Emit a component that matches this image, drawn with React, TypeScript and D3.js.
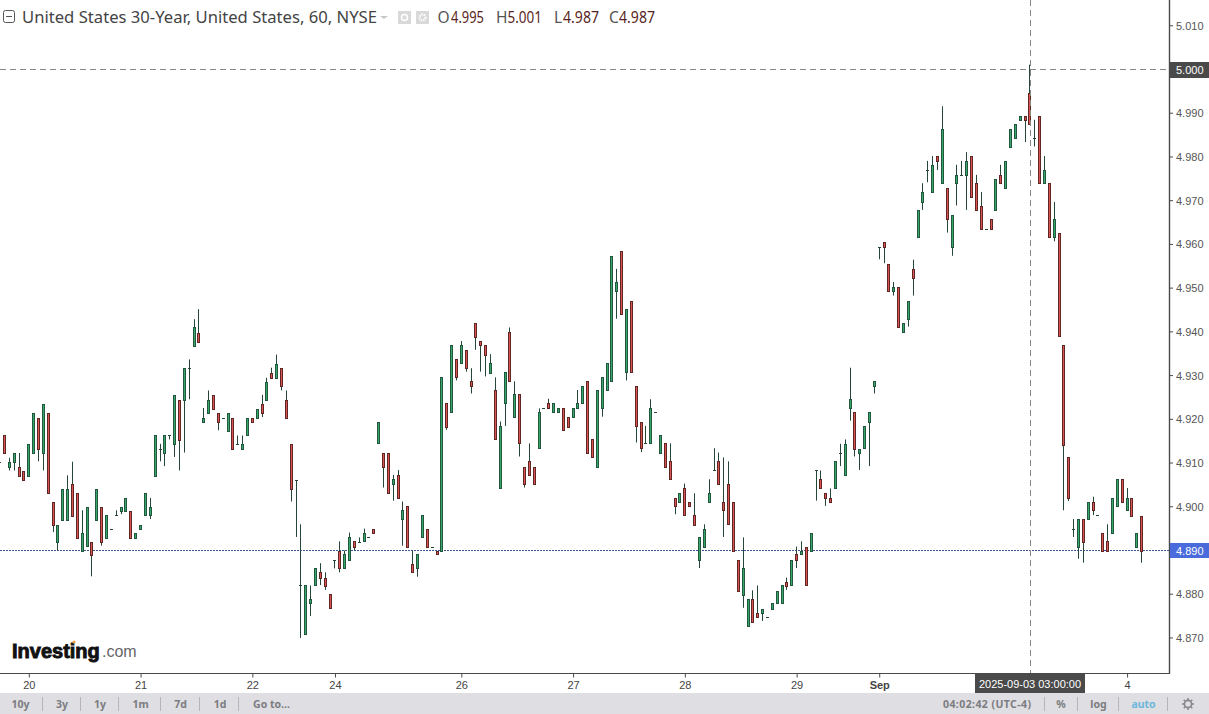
import React from "react";
import * as d3 from "d3";

const opens = [
4.9103,4.9163,4.9090,4.9103,4.9092,4.9082,4.9071,4.9123,4.9204,4.9123,
4.9215,4.9011,4.8919,4.8970,4.8970,4.9053,4.9032,4.8900,4.8910,4.8919,
4.8970,4.9000,4.8929,4.8950,4.8982,4.8990,4.8990,4.8990,4.8929,4.8950,
4.8982,4.8982,4.9071,4.9133,4.9123,4.9163,4.9144,4.9245,4.9245,4.9318,
4.9368,4.9398,4.9195,4.9215,4.9256,4.9215,4.9204,4.9174,4.9204,4.9144,
4.9133,4.9163,4.9204,4.9204,4.9236,4.9245,4.9307,4.9295,4.9318,4.9245,
4.9144,4.9062,4.8820,4.8708,4.8779,4.8820,4.8850,4.8838,4.8800,4.8879,
4.8900,4.8859,4.8879,4.8921,4.8920,4.8921,4.8930,4.8950,4.9145,4.9124,
4.9124,4.9053,4.9072,4.8971,4.9001,4.8870,4.8859,4.8930,4.8950,4.8909,
4.8900,4.8900,4.9237,4.9216,4.9337,4.9328,4.9358,4.9287,4.9420,4.9379,
4.9369,4.9307,4.9266,4.9042,4.9237,4.9399,4.9205,4.9257,4.9092,4.9104,
4.9092,4.9134,4.9225,4.9237,4.9216,4.9216,4.9225,4.9205,4.9205,4.9225,
4.9237,4.9287,4.9154,4.9092,4.9225,4.9266,4.9287,4.9493,4.9585,4.9308,
4.9470,4.9276,4.9195,4.9145,4.9145,4.9216,4.9124,4.9145,4.9104,4.9021,
4.9011,4.9042,4.9012,4.8982,4.8879,4.8908,4.9011,4.9083,4.9104,4.9012,
4.9053,4.9012,4.8879,4.8799,4.8728,4.8788,4.8758,4.8758,4.8749,4.8767,
4.8779,4.8779,4.8829,4.8820,4.8891,4.8891,4.8909,4.8900,4.9083,4.9063,
4.9031,4.9021,4.9042,4.9124,4.9072,4.9225,4.9216,4.9124,4.9134,4.9195,
4.9276,4.9594,4.9605,4.9555,4.9493,4.9502,4.9399,4.9429,4.9544,4.9617,
4.9696,4.9770,4.9720,4.9802,4.9740,4.9729,4.9593,4.9740,4.9759,4.9758,
4.9802,4.9740,4.9688,4.9635,4.9658,4.9679,4.9759,4.9729,4.9823,4.9844,
4.9885,4.9894,4.9947,4.9844,4.9894,4.9740,4.9740,4.9617,4.9626,4.9369,
4.9113,4.8950,4.8908,4.8971,4.8971,4.9012,4.8981,4.8941,4.8921,4.8941,
4.9001,4.9063,4.8992,4.9021,4.8908,4.8980];

const closes = [
4.9103,4.9123,4.9103,4.9123,4.9071,4.9062,4.9144,4.9215,4.9133,4.9236,
4.9031,4.8959,4.8959,4.9041,4.9041,4.8980,4.8929,4.8940,4.9000,4.8889,
4.9041,4.8919,4.8982,4.8950,4.8982,4.9000,4.9020,4.8929,4.8940,4.8959,
4.9032,4.9000,4.9163,4.9133,4.9163,4.9163,4.9256,4.9153,4.9318,4.9318,
4.9410,4.9377,4.9204,4.9245,4.9224,4.9195,4.9204,4.9215,4.9133,4.9144,
4.9144,4.9204,4.9195,4.9224,4.9215,4.9286,4.9295,4.9327,4.9276,4.9204,
4.9041,4.9062,4.8820,4.8820,4.8788,4.8859,4.8838,4.8819,4.8769,4.8879,
4.8859,4.8891,4.8930,4.8909,4.8920,4.8941,4.8930,4.8941,4.9195,4.9092,
4.9031,4.9063,4.9021,4.8992,4.8909,4.8850,4.8891,4.8982,4.8909,4.8909,
4.8891,4.9296,4.9183,4.9369,4.9296,4.9369,4.9317,4.9276,4.9389,4.9369,
4.9348,4.9328,4.9154,4.9184,4.9308,4.9287,4.9257,4.9145,4.9053,4.9072,
4.9053,4.9216,4.9225,4.9225,4.9237,4.9225,4.9175,4.9183,4.9225,4.9237,
4.9276,4.9124,4.9113,4.9266,4.9296,4.9328,4.9573,4.9514,4.9440,4.9452,
4.9308,4.9184,4.9134,4.9145,4.9225,4.9216,4.9163,4.9092,4.9063,4.9001,
4.9031,4.8982,4.9001,4.8959,4.8930,4.8950,4.9031,4.9083,4.9053,4.8992,
4.8960,4.8900,4.8808,4.8859,4.8788,4.8737,4.8748,4.8767,4.8749,4.8779,
4.8808,4.8820,4.8819,4.8879,4.8879,4.8900,4.8820,4.8941,4.9083,4.9042,
4.9021,4.9012,4.9104,4.9124,4.9143,4.9246,4.9133,4.9133,4.9184,4.9216,
4.9287,4.9594,4.9594,4.9493,4.9502,4.9411,4.9420,4.9470,4.9523,4.9679,
4.9720,4.9770,4.9782,4.9791,4.9864,4.9658,4.9667,4.9759,4.9759,4.9791,
4.9708,4.9679,4.9635,4.9635,4.9635,4.9750,4.9740,4.9791,4.9864,4.9876,
4.9894,4.9885,4.9876,4.9844,4.9740,4.9770,4.9617,4.9658,4.9390,4.9142,
4.9021,4.8950,4.8971,4.8920,4.9012,4.8992,4.8981,4.8900,4.8900,4.9021,
4.9063,4.9012,4.9021,4.8980,4.8941,4.8900];

// [candle index, wick extreme]; a candle not listed has no wick on that side
const wickHighs: [number, number][] = [
[2,4.9112],[4,4.9123],[14,4.9072],[15,4.9103],[17,4.8992],[24,4.8992],[31,4.9020],[33,4.9144],[39,4.9337],[40,4.9429],
[41,4.9452],[42,4.9226],[43,4.9266],[49,4.9163],[50,4.9163],[54,4.9256],[55,4.9295],[56,4.9318],[57,4.9348],[59,4.9266],
[62,4.8960],[64,4.8820],[66,4.8871],[67,4.8850],[70,4.8921],[71,4.8900],[72,4.8941],[74,4.8930],[75,4.8950],[81,4.9073],
[82,4.9084],[83,4.9012],[85,4.8900],[95,4.9379],[97,4.9317],[101,4.9349],[102,4.9296],[103,4.9195],[105,4.9410],[106,4.9287],
[109,4.9145],[111,4.9225],[113,4.9247],[119,4.9267],[127,4.9544],[133,4.9185],[134,4.9246],[138,4.9145],[141,4.9053],[143,4.9031],
[145,4.8960],[146,4.9063],[147,4.9134],[148,4.9124],[149,4.9113],[150,4.9104],[153,4.8930],[155,4.8809],[156,4.8820],[162,4.8838],
[164,4.8909],[165,4.8921],[169,4.9083],[171,4.9042],[173,4.9144],[174,4.9154],[175,4.9318],[184,4.9514],[188,4.9565],[190,4.9740],
[191,4.9791],[192,4.9802],[194,4.9916],[197,4.9782],[198,4.9791],[199,4.9811],[201,4.9759],[202,4.9720],[206,4.9782],[212,5.0011],
[213,4.9885],[215,4.9802],[217,4.9697],[221,4.8972],[225,4.9023],[228,4.8960],[232,4.9043]];

const wickLows: [number, number][] = [
[2,4.9083],[3,4.9083],[8,4.9104],[9,4.9083],[11,4.8942],[12,4.8900],[19,4.8841],[21,4.8911],[25,4.8983],[31,4.8972],
[33,4.9104],[34,4.9093],[35,4.9154],[36,4.9114],[37,4.9083],[38,4.9124],[39,4.9246],[45,4.9175],[54,4.9205],[58,4.9266],
[60,4.9012],[61,4.8931],[62,4.8700],[64,4.8750],[66,4.8821],[67,4.8810],[69,4.8859],[70,4.8850],[73,4.8900],[79,4.9044],
[81,4.9014],[83,4.8911],[86,4.8840],[92,4.9176],[94,4.9289],[96,4.9309],[97,4.9259],[98,4.9359],[99,4.9309],[100,4.9298],
[104,4.9185],[107,4.9115],[108,4.9044],[124,4.9206],[127,4.9430],[129,4.9289],[131,4.9147],[132,4.9125],[139,4.8983],[144,4.8860],
[149,4.8931],[153,4.8769],[157,4.8739],[162,4.8810],[164,4.8860],[168,4.9014],[170,4.9002],[173,4.9093],[175,4.9197],[176,4.9115],
[177,4.9084],[179,4.9093],[180,4.9259],[181,4.9566],[182,4.9557],[184,4.9483],[187,4.9412],[188,4.9483],[190,4.9679],[191,4.9742],
[193,4.9770],[195,4.9627],[196,4.9574],[197,4.9689],[199,4.9679],[211,4.9834],[213,4.9824],[217,4.9607],[219,4.8992],[220,4.9013],
[221,4.8931],[222,4.8881],[223,4.8872],[225,4.8981],[235,4.8872]];

const priceTicks = [5.01,5.0,4.99,4.98,4.97,4.96,4.95,4.94,4.93,4.92,4.91,4.9,4.89,4.88,4.87];
const dateLabels = ["20","21","22","24","26","27","28","29","Sep","4"];
const dateIndexes = [6,29,52,69,95,118,141,164,181,232];
const rangeButtons: [string, number][] = [["10y",20.5],["3y",62],["1y",100],["1m",140.5],["7d",180.5],["1d",220],["Go to...",271.5]];
const barDividers = [42,80,118,160,199,238,1044,1077,1118,1167];
const currentPrice = 4.89;
const hoverPrice = 5.0;
const ohlcLegend: [string, string, number, number, number][] = [
  ["O","4.995",437.5,451,33],["H","5.001",496,507.5,34.5],["L","4.987",554,563,36],["C","4.987",609,619,36]];

const W = 1209, H = 714, RIGHT = 1169, BOTTOM = 673.5;
const x = d3.scaleLinear().domain([0, 235]).range([-0.35, 1141.65]);
const y = d3.scaleLinear().domain([4.89, 5.0]).range([550.5, 69.5]);
const AXIS_FONT = "'Liberation Sans', Arial, sans-serif";
const UI_FONT = "'Noto Sans', sans-serif";
const highMap = new Map(wickHighs);
const lowMap = new Map(wickLows);

const Candle = ({ i }: { i: number }) => {
  const o = opens[i], c = closes[i];
  const cx = Math.floor(x(i));
  const up = c >= o;
  const top = Math.round(y(Math.max(o, c))) + 0.5;
  const bot = Math.round(y(Math.min(o, c))) + 0.5;
  const hi = highMap.has(i) ? y(highMap.get(i)!) : top;
  const lo = lowMap.has(i) ? y(lowMap.get(i)!) : bot;
  const dark = up ? "#22563e" : "#5f2626";
  const wick = "#26463a";
  return (
    <g>
      {(hi < top || lo > bot) && <line x1={cx + 0.5} x2={cx + 0.5} y1={hi} y2={lo} stroke={wick} strokeWidth={1} />}
      {o === c ? (
        <line x1={cx - 1} x2={cx + 2} y1={top} y2={top} stroke={wick} strokeWidth={1} />
      ) : (
        <rect x={cx - 0.5} y={top} width={2} height={bot - top} fill={up ? "#35a86a" : "#dc5450"} stroke={dark} strokeWidth={1} />
      )}
    </g>
  );
};

export default function App() {
  const hx = 1030.5;
  return (
    <svg width={W} height={H} style={{ position: "fixed", left: 0, top: 0, background: "#fff" }}>
      <rect width={W} height={H} fill="#fff" />
      {/* price lines */}
      <line x1={0} x2={RIGHT} y1={y(currentPrice)} y2={y(currentPrice)} stroke="#3a5698" strokeWidth={1} strokeDasharray="2 1" />
      <line x1={0} x2={RIGHT} y1={y(hoverPrice)} y2={y(hoverPrice)} stroke="#888" strokeWidth={1} strokeDasharray="6 4" />
      {opens.map((_, i) => <Candle key={i} i={i} />)}
      <line x1={hx} x2={hx} y1={0} y2={BOTTOM} stroke="#888" strokeWidth={1} strokeDasharray="6 4" />

      {/* axes */}
      <line x1={RIGHT + 0.5} x2={RIGHT + 0.5} y1={0} y2={BOTTOM + 0.5} stroke="#4a4a4a" strokeWidth={1.4} />
      <line x1={0} x2={RIGHT + 1} y1={BOTTOM} y2={BOTTOM} stroke="#4a4a4a" strokeWidth={1.2} />
      {priceTicks.map((t) => (
        <g key={t}>
          <line x1={RIGHT} x2={RIGHT + 4} y1={y(t)} y2={y(t)} stroke="#4a4a4a" />
          <text x={1176} y={y(t) + 4} fontFamily={AXIS_FONT} fontSize={11} fill="#555">{d3.format(".3f")(t)}</text>
        </g>
      ))}
      {dateLabels.map((d, k) => (
        <g key={d}>
          <line x1={x(dateIndexes[k]) + 0.5} x2={x(dateIndexes[k]) + 0.5} y1={BOTTOM} y2={BOTTOM + 4} stroke="#4a4a4a" />
          <text x={x(dateIndexes[k]) + 0.5} y={689} textAnchor="middle" fontFamily={AXIS_FONT} fontSize={11} fontWeight={d === "Sep" ? 700 : 400} fill="#444">{d}</text>
        </g>
      ))}

      {/* value badges */}
      <rect x={RIGHT + 1} y={62} width={40} height={16} fill="#4a4a4a" />
      <text x={1176} y={y(hoverPrice) + 4} fontFamily={AXIS_FONT} fontSize={11} fill="#fff">{d3.format(".3f")(hoverPrice)}</text>
      <rect x={RIGHT + 1} y={543} width={40} height={15} fill="#4a6bdc" />
      <text x={1176} y={y(currentPrice) + 4} fontFamily={AXIS_FONT} fontSize={11} fill="#fff">{d3.format(".3f")(currentPrice)}</text>

      {/* bottom bar */}
      <rect x={0} y={693} width={W} height={21} fill="#dedee3" />
      <rect x={975} y={674} width={110} height={19} fill="#4a4a4a" />
      <text x={1030} y={688} textAnchor="middle" fontFamily={AXIS_FONT} fontSize={11} fill="#fff">2025-09-03 03:00:00</text>
      {barDividers.map((d) => <line key={d} x1={d + 0.5} x2={d + 0.5} y1={697} y2={711} stroke="#b5b5bb" />)}
      {rangeButtons.map(([t, px]) => (
        <text key={t} x={px} y={708} textAnchor="middle" fontFamily={UI_FONT} fontWeight={700} fontSize={10.5} fill="#7c7c80">{t}</text>
      ))}
      <text x={943} y={708} fontFamily={UI_FONT} fontWeight={700} fontSize={10.5} fill="#7c7c80" textLength={88}>04:02:42 (UTC-4)</text>
      <text x={1061} y={708} textAnchor="middle" fontFamily={UI_FONT} fontWeight={700} fontSize={10.5} fill="#7c7c80">%</text>
      <text x={1098.5} y={708} textAnchor="middle" fontFamily={UI_FONT} fontWeight={700} fontSize={10.5} fill="#7c7c80">log</text>
      <text x={1143.5} y={708} textAnchor="middle" fontFamily={UI_FONT} fontWeight={700} fontSize={10.5} fill="#6bb7dc">auto</text>
      <g stroke="#85858a" fill="none">
        <circle cx={1188} cy={704} r={3.6} strokeWidth={1.6} />
        {d3.range(8).map((k) => {
          const a = (k * Math.PI) / 4;
          return <line key={k} x1={1188 + 4 * Math.cos(a)} y1={704 + 4 * Math.sin(a)} x2={1188 + 6 * Math.cos(a)} y2={704 + 6 * Math.sin(a)} strokeWidth={1.5} />;
        })}
      </g>

      {/* title row */}
      <rect x={3.5} y={10.5} width={11} height={12} rx={2} fill="none" stroke="#555" />
      <line x1={6} x2={12} y1={16.5} y2={16.5} stroke="#555" />
      <text x={22} y={23} fontFamily={UI_FONT} fontSize={16} fill="#444" textLength={355} lengthAdjust="spacingAndGlyphs">United States 30-Year, United States, 60, NYSE</text>
      <path d="M380 16 h8 l-4 3 z" fill="#c8c8c8" />
      <rect x={398} y={11} width={13} height={13} fill="#d9d9d9" />
      <circle cx={404.5} cy={17.5} r={3} fill="none" stroke="#fff" strokeWidth={1.5} />
      <rect x={416} y={11} width={13} height={13} fill="#d9d9d9" />
      <circle cx={422.5} cy={17.5} r={3} fill="none" stroke="#fff" strokeWidth={2} strokeDasharray="1.5 1" />
      {ohlcLegend.map(([k, v, kx, vx, vw]) => (
        <g key={k} fontFamily={UI_FONT} fontSize={15.5}>
          <text x={kx} y={23} fill="#555">{k}</text>
          <text x={vx} y={23} fill="#5a1f22" textLength={vw} lengthAdjust="spacingAndGlyphs">{v}</text>
        </g>
      ))}

      {/* logo */}
      <text x={12} y={657.5} fontFamily={AXIS_FONT} fontWeight={700} fontSize={20} fill="#111" stroke="#111" strokeWidth={0.9}>Investing</text>
      <text x={102} y={657} fontFamily={AXIS_FONT} fontSize={16} fill="#666">.com</text>
      <circle cx={74} cy={642} r={1.6} fill="#e8a33d" />
    </svg>
  );
}
